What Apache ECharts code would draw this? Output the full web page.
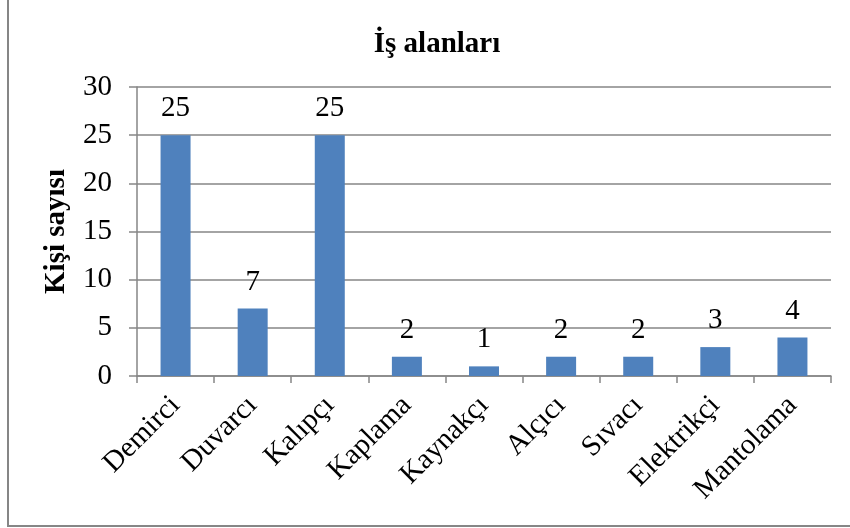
<!DOCTYPE html>
<html>
<head>
<meta charset="utf-8">
<script src="https://cdn.jsdelivr.net/npm/echarts@6/dist/echarts.min.js"></script>
<style>
  html, body { margin: 0; padding: 0; background: #fff; }
  #chart { width: 850px; height: 528px; }
</style>
</head>
<body>
<div id="chart"></div>
<script>
var categories = ['Demirci', 'Duvarcı', 'Kalıpçı', 'Kaplama', 'Kaynakçı', 'Alçıcı', 'Sıvacı', 'Elektrikçi', 'Mantolama'];
var counts = [25, 7, 25, 2, 1, 2, 2, 3, 4];
var yTicks = { min: 0, max: 30, interval: 5 };

var serif = '"Liberation Serif", "Times New Roman", serif';
var gridColor = '#868686';

var myChart = echarts.init(document.getElementById('chart'));
var option = {
  animation: false,
  title: {
    text: 'İş alanları',
    left: 432,
    top: 25,
    textAlign: 'center',
    textStyle: { fontFamily: serif, fontWeight: 'bold', fontSize: 29, color: '#000' }
  },
  grid: { left: 137, right: 19, top: 87, bottom: 152 },
  graphic: [{
    type: 'rect',
    shape: { x: 8, y: -10, width: 900, height: 536 },
    style: { fill: 'none', stroke: gridColor, lineWidth: 2 },
    silent: true
  }],
  xAxis: {
    type: 'category',
    data: categories,
    axisLine: { lineStyle: { color: gridColor, width: 1.5 } },
    axisTick: { show: true, length: 7, lineStyle: { color: gridColor, width: 1.5 } },
    axisLabel: {
      rotate: 45,
      interval: 0,
      margin: 25,
      color: '#000',
      fontFamily: serif,
      fontSize: 29
    }
  },
  yAxis: {
    type: 'value',
    min: yTicks.min,
    max: yTicks.max,
    interval: yTicks.interval,
    name: 'Kişi sayısı',
    nameLocation: 'middle',
    nameGap: 66,
    nameTextStyle: { fontFamily: serif, fontWeight: 'bold', fontSize: 29, color: '#000' },
    axisLine: { show: true, lineStyle: { color: gridColor, width: 1.5 } },
    axisTick: { show: true, length: 8, lineStyle: { color: gridColor, width: 1.5 } },
    axisLabel: { margin: 25, color: '#000', fontFamily: serif, fontSize: 29 },
    splitLine: { lineStyle: { color: gridColor, width: 1.5 } }
  },
  series: [{
    type: 'bar',
    data: counts,
    barWidth: 30,
    itemStyle: { color: '#4F81BD' },
    label: {
      show: true,
      position: 'top',
      distance: 12,
      color: '#000',
      fontFamily: serif,
      fontSize: 29
    }
  }]
};
myChart.setOption(option);
</script>
</body>
</html>
